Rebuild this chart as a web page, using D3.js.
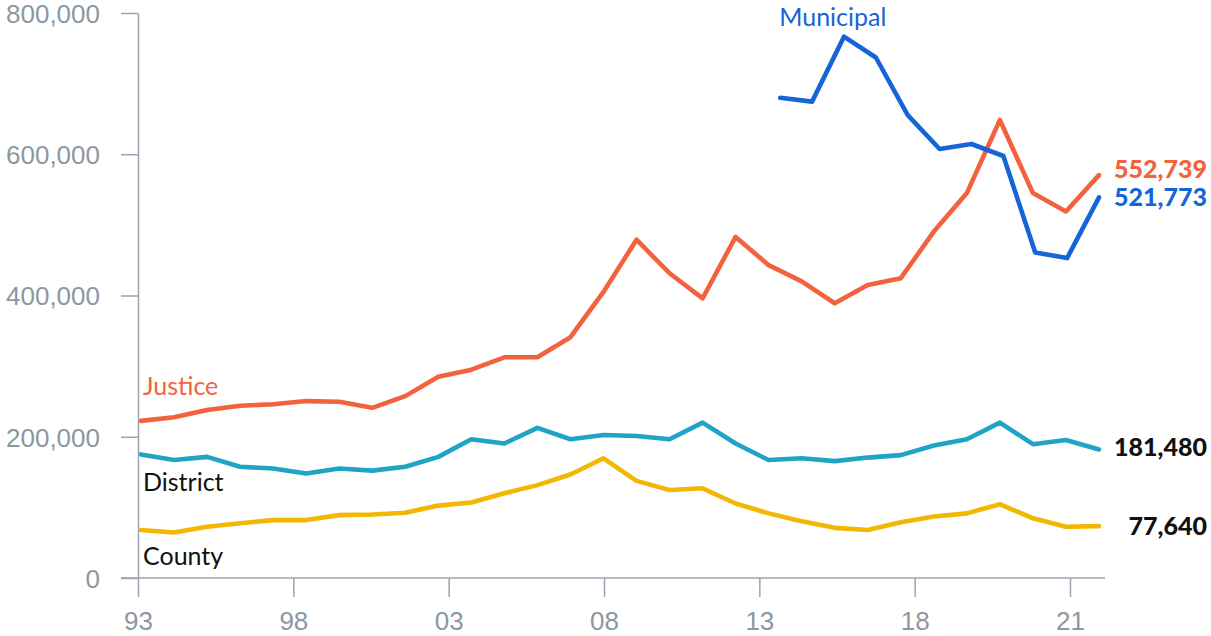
<!DOCTYPE html>
<html>
<head>
<meta charset="utf-8">
<script src="https://cdn.jsdelivr.net/npm/d3@7"></script>
<style>
  body { margin: 0; background: #fff; }
  svg { display: block; font-family: Lato, "Open Sans", sans-serif; }
  .axis text { fill: #8d97a1; font-size: 26px; }
  .axis line, .axis path { stroke: #9ba4ae; stroke-width: 1.5; }
</style>
</head>
<body>
<svg id="chart" width="1211" height="636"></svg>
<script>
// values
var justice = [222500, 227500, 238000, 244000, 246000, 250500, 249500, 241000, 257500, 285000,
  295000, 312500, 312500, 341000, 405000, 479000, 431500, 396000, 483000, 443000,
  420000, 389000, 415000, 424500, 490500, 545000, 648500, 545000, 519000, 570500];
var district = [175000, 167000, 171500, 157500, 155000, 148000, 155000, 152000, 157500, 171500,
  196500, 190500, 212500, 196500, 202500, 201000, 196500, 220000, 190500, 167000,
  169500, 165500, 170500, 174000, 187500, 196500, 220000, 189500, 195500, 182000];
var county = [68000, 64500, 72500, 77500, 82000, 82000, 89000, 90000, 92500, 102500,
  107000, 120000, 131500, 146500, 169500, 137500, 124500, 127000, 105500, 91500,
  80500, 71000, 68000, 79000, 87000, 91500, 104500, 84500, 72500, 73500];
var municipal = [680000, 674500, 766500, 737000, 655500, 607500, 614500, 597500, 461000, 453000, 539000];

var xTickLabels = ["93", "98", "03", "08", "13", "18", "21"];
var yTicks = [0, 200000, 400000, 600000, 800000];
var endLabels = ["552,739", "521,773", "181,480", "77,640"];

var svg = d3.select("#chart");

// main series: 30 points, municipal: 11 points starting a bit after index 19
var x = d3.scaleLinear().domain([0, justice.length - 1]).range([141, 1099]);
var xMuni = d3.scaleLinear().domain([0, municipal.length - 1]).range([x(19.35), x(justice.length - 1)]);
var xTicks = d3.scalePoint().domain(xTickLabels).range([138, 1070]);
var y = d3.scaleLinear().domain([0, 800000]).range([578, 13]);

// y axis
svg.append("g")
  .attr("class", "axis")
  .attr("transform", "translate(138,0)")
  .call(d3.axisLeft(y).tickValues(yTicks).tickSize(17).tickSizeOuter(0).tickPadding(21)
    .tickFormat(d3.format(",")))
  .call(g => g.selectAll("text").attr("dy", "0.36em"));

// x axis
var xAxis = svg.append("g")
  .attr("class", "axis")
  .attr("transform", "translate(0,578)")
  .call(d3.axisBottom(xTicks).tickSize(19).tickSizeOuter(0))
xAxis.select(".domain").remove();
xAxis.selectAll("text").attr("y", 52).attr("dy", 0);
xAxis.append("line")
  .attr("x1", 121).attr("x2", x(justice.length - 1) + 6)
  .attr("y1", 0).attr("y2", 0);

var series = [
  {name: "Justice", values: justice, xs: x, color: "#f2623e"},
  {name: "District", values: district, xs: x, color: "#1fa4c5"},
  {name: "County", values: county, xs: x, color: "#f2b700"},
  {name: "Municipal", values: municipal, xs: xMuni, color: "#1565d9"}
];

series.forEach(function(s){
  var line = d3.line()
    .x(function(d, i){ return s.xs(i); })
    .y(function(d){ return y(d); });
  svg.append("path")
    .datum(s.values)
    .attr("fill", "none")
    .attr("stroke", s.color)
    .attr("stroke-width", 4.6)
    .attr("stroke-linejoin", "round")
    .attr("stroke-linecap", "round")
    .attr("d", line);
});

// series names
svg.append("text").text("Justice")
  .attr("x", x(0) + 2).attr("y", y(justice[0]) - 26)
  .attr("fill", "#f2623e").style("font-size", "25px");
svg.append("text").text("District")
  .attr("x", x(0) + 2).attr("y", y(district[0]) + 37)
  .attr("fill", "#111").style("font-size", "25px");
svg.append("text").text("County")
  .attr("x", x(0) + 2).attr("y", y(county[0]) + 35)
  .attr("fill", "#111").style("font-size", "25px");
svg.append("text").text("Municipal")
  .attr("x", xMuni(0) - 1).attr("y", y(municipal[0]) - 72)
  .attr("fill", "#1565d9").style("font-size", "25px");

// end values
var ends = [
  {text: endLabels[0], v: justice[justice.length - 1], off: -6, color: "#f2623e"},
  {text: endLabels[1], v: municipal[municipal.length - 1], off: 0, color: "#1565d9"},
  {text: endLabels[2], v: district[district.length - 1], off: -2, color: "#111"},
  {text: endLabels[3], v: county[county.length - 1], off: 0, color: "#111"}
];
svg.selectAll(".endlabel")
  .data(ends)
  .enter().append("text")
  .attr("class", "endlabel")
  .attr("x", 1207)
  .attr("y", d => y(d.v) + d.off)
  .attr("dy", "0.36em")
  .attr("text-anchor", "end")
  .attr("fill", d => d.color)
  .style("font-size", "25px")
  .style("font-weight", 900)
  .text(d => d.text);
</script>
</body>
</html>
